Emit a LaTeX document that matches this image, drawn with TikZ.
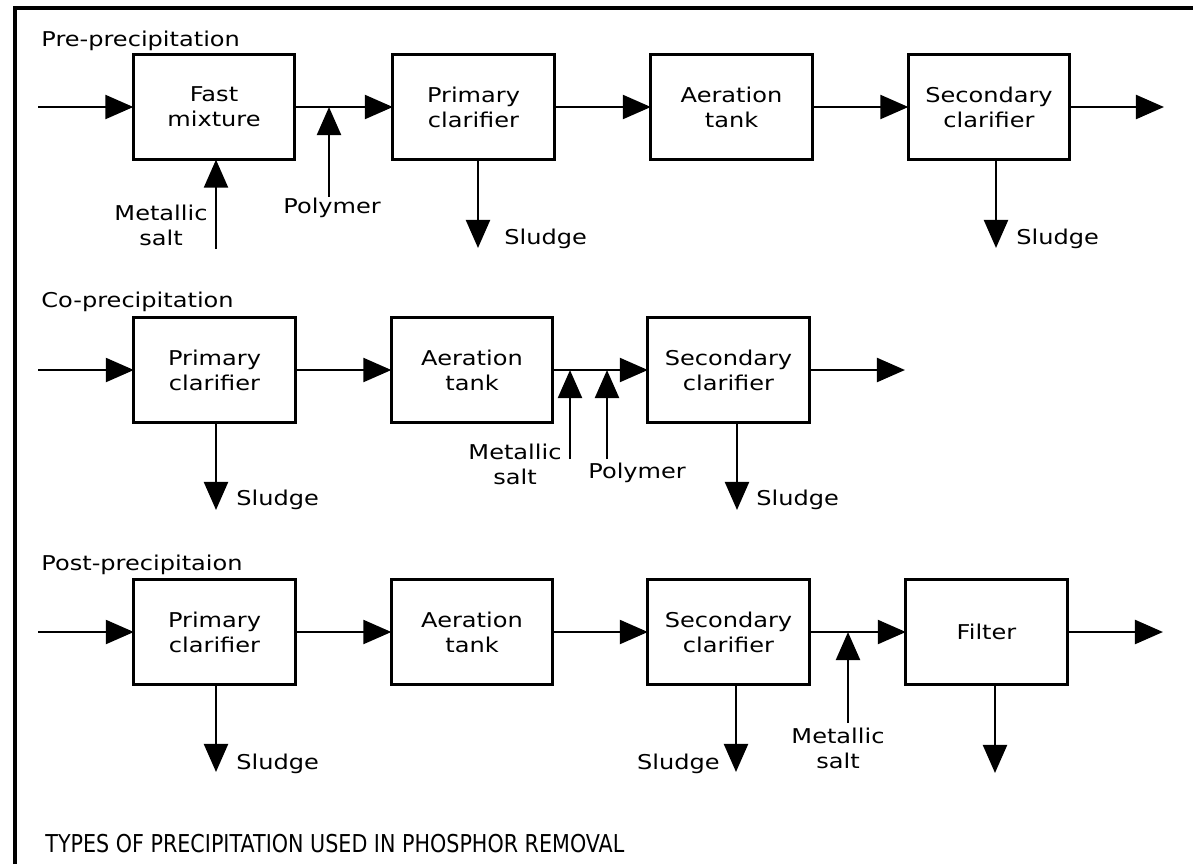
\documentclass[tikz,border=0pt]{standalone}
\usepackage{fontspec}
\setmainfont[FakeStretch=1.18]{DejaVu Sans}
\newfontfamily\titlefont[FakeStretch=0.84]{DejaVu Sans}
\usetikzlibrary{arrows.meta,calc}
\tikzset{->,>={Triangle[length=20pt,width=17pt]}}
\newcommand{\drawbox}{\node[draw,minimum width=4.03cm,minimum height=2.63cm,align=center,outer sep=0]}
\newcommand{\drawtext}{\node[inner sep=0,align=center]}

\begin{document}
\begin{tikzpicture}[x=0.025cm,y=-0.025cm,line width=2pt,font=\fontsize{14.5}{17.7}\selectfont]
	\useasboundingbox (0,0) rectangle (1193,864);
	\draw[-,line width=2.6pt] (15,864) -- (15,8) -- (1193,8);
	
	% pre-precipitation
	\drawtext[anchor=base west] (preA) at (40,46) {Pre-precipitation};
	\drawbox (mixA) at (214,107) {Fast\\mixture};
	\drawbox (priA) at (473.5,107) {Primary\\clarifier};
	\drawbox (aerA) at (731.5,107) {Aeration\\tank};
	\drawbox (secA) at (989,107) {Secondary\\clarifier};
	\coordinate (inA) at (38,107);
	\coordinate (outA) at (1164,107);
	\coordinate (metA) at (216,249);
	\coordinate (polA) at (329,197);
	\coordinate (sluA1) at (478,248);
	\coordinate (sluA2) at (996,248);
	\drawtext[anchor=north] (metlA) at (161,204) {Metallic\\salt};
	\drawtext[anchor=base west] (pollA) at (282,213) {Polymer};
	\drawtext[anchor=base west] (slulA1) at (503,244) {Sludge};
	\drawtext[anchor=base west] (slulA2) at (1015,244) {Sludge};
	
	\draw (inA) -- (mixA);
	\draw (mixA) -- (priA);
	\draw (priA) -- (aerA);
	\draw (aerA) -- (secA);
	\draw (secA) -- (outA);
	\draw (metA) -- (metA |- mixA.south);
	\draw (polA) -- (polA |- mixA.east);
	\draw (sluA1 |- priA.south) -- (sluA1);
	\draw (sluA2 |- secA.south) -- (sluA2);
	
	% co-precipitation
	\drawtext[anchor=base west] (coB) at (40,307) {Co-precipitation};
	\drawbox (priB) at (214.5,370) {Primary\\clarifier};
	\drawbox (aerB) at (472,370) {Aeration\\tank};
	\drawbox (secB) at (728.5,370) {Secondary\\clarifier};
	\coordinate (inB) at (38,370);
	\coordinate (outB) at (905,370);
	\coordinate (metB) at (570,459);
	\coordinate (polB) at (607,459);
	\coordinate (sluB1) at (216,510);
	\coordinate (sluB2) at (737,510);
	\drawtext[anchor=north] (metlB) at (515,443) {Metallic\\salt};
	\drawtext[anchor=base west] (pollB) at (587,478) {Polymer};
	\drawtext[anchor=base west] (slulB1) at (235,505) {Sludge};
	\drawtext[anchor=base west] (slulB2) at (755,505) {Sludge};
	
	\draw (inB) -- (priB);
	\draw (priB) -- (aerB);
	\draw (aerB) -- (secB);
	\draw (secB) -- (outB);
	\draw (metB) -- (metB |- aerB.east);
	\draw (polB) -- (polB |- aerB.east);
	\draw (sluB1 |- priB.south) -- (sluB1);
	\draw (sluB2 |- secB.south) -- (sluB2);
	
	% post-precipitation
	\drawtext[anchor=base west] (postC) at (40,570) {Post-precipitaion};
	\drawbox (priC) at (214.5,632) {Primary\\clarifier};
	\drawbox (aerC) at (472,632) {Aeration\\tank};
	\drawbox (secC) at (728.5,632) {Secondary\\clarifier};
	\drawbox (filC) at (986.5,632) {Filter};
	\coordinate (inC) at (38,632);
	\coordinate (outC) at (1163,632);
	\coordinate (metC) at (848,723);
	\coordinate (sluC1) at (216,772);
	\coordinate (sluC2) at (736,772);
	\coordinate (sluC3) at (995,773);
	\drawtext[anchor=north] (metlC) at (838,727) {Metallic\\salt};
	\drawtext[anchor=base west] (slulC1) at (235,769) {Sludge};
	\drawtext[anchor=base east] (slulC2) at (721,769) {Sludge};
	
	\draw (inC) -- (priC);
	\draw (priC) -- (aerC);
	\draw (aerC) -- (secC);
	\draw (secC) -- (filC);
	\draw (filC) -- (outC);
	\draw (metC) -- (metC |- secC.east);
	\draw (sluC1 |- priC.south) -- (sluC1);
	\draw (sluC2 |- secC.south) -- (sluC2);
	\draw (sluC3 |- filC.south) -- (sluC3);
	
	\drawtext[anchor=base west,font=\titlefont\fontsize{17.5}{20}\selectfont] (title) at (44,852) {TYPES OF PRECIPITATION USED IN PHOSPHOR REMOVAL};
	
\end{tikzpicture}
\end{document}
